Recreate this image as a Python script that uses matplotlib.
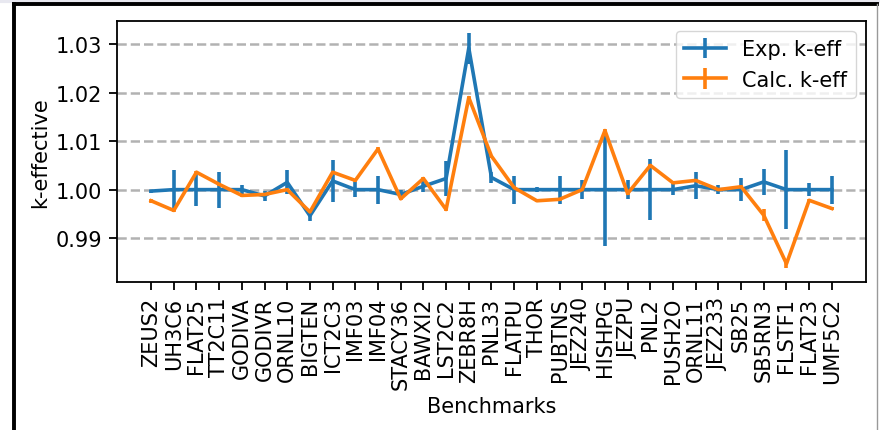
import numpy as np
import matplotlib
matplotlib.use("Agg")
import matplotlib.pyplot as plt
from matplotlib.lines import Line2D

benchmarks = ["ZEUS2", "UH3C6", "FLAT25", "TT2C11", "GODIVA", "GODIVR", "ORNL10",
              "BIGTEN", "ICT2C3", "IMF03", "IMF04", "STACY36", "BAWXI2", "LST2C2",
              "ZEBR8H", "PNL33", "FLATPU", "THOR", "PUBTNS", "JEZ240", "HISHPG",
              "JEZPU", "PNL2", "PUSH2O", "ORNL11", "JEZ233", "SB25", "SB5RN3",
              "FLSTF1", "FLAT23", "UMF5C2"]

exp_k = [0.9997, 1.0000, 1.0000, 1.0000, 1.0000, 0.9987, 1.0015,
         0.9946, 1.0018, 1.0000, 1.0000, 0.9990, 1.0007, 1.0023,
         1.0292, 1.0025, 1.0000, 1.0000, 1.0000, 1.0000, 1.0000,
         1.0000, 1.0000, 1.0000, 1.0008, 1.0000, 1.0000, 1.0016,
         1.0000, 1.0000, 1.0000]
exp_err = [0.0003, 0.0041, 0.0033, 0.0037, 0.0009, 0.0010, 0.0025,
           0.0010, 0.0043, 0.0016, 0.0029, 0.0009, 0.0012, 0.0036,
           0.0032, 0.0012, 0.0029, 0.0005, 0.0029, 0.0019, 0.0116,
           0.0019, 0.0063, 0.0011, 0.0028, 0.0009, 0.0024, 0.0027,
           0.0081, 0.0014, 0.0029]

calc_k = [0.9977, 0.9957, 1.0036, 1.0011, 0.9988, 0.9990, 1.0000,
          0.9954, 1.0036, 1.0019, 1.0084, 0.9981, 1.0023, 0.9959,
          1.0190, 1.0069, 1.0004, 0.9977, 0.9980, 1.0000, 1.0122,
          0.9992, 1.0050, 1.0014, 1.0019, 1.0000, 1.0006, 0.9947,
          0.9847, 0.9978, 0.9961]
calc_err = [0.0004, 0.0003, 0.0003, 0.0003, 0.0003, 0.0003, 0.0003,
            0.0003, 0.0003, 0.0003, 0.0003, 0.0003, 0.0003, 0.0003,
            0.0003, 0.0003, 0.0003, 0.0003, 0.0003, 0.0003, 0.0003,
            0.0003, 0.0003, 0.0003, 0.0003, 0.0003, 0.0003, 0.0012,
            0.0009, 0.0003, 0.0003]

x = np.arange(len(benchmarks))

fig = plt.figure(figsize=(8.8, 4.31), dpi=100)
ax = fig.add_axes([0.133, 0.343, 0.851, 0.607])

ax.errorbar(x, exp_k, yerr=exp_err, lw=2.6, elinewidth=2.6, label="Exp. k-eff")
ax.errorbar(x, calc_k, yerr=calc_err, lw=2.6, elinewidth=2.6, label="Calc. k-eff")

ax.set_xticks(x)
ax.set_xticklabels(benchmarks, rotation=90, fontsize=15)
ax.set_yticks([0.99, 1.00, 1.01, 1.02, 1.03])
ax.tick_params(axis="both", labelsize=15, length=5.5, width=1.3, pad=5)
ax.set_xlim(-1.5, 31.5)
ax.set_ylim(0.9809, 1.0349)
ax.yaxis.grid(True, linestyle="--", color="gray", alpha=0.6, lw=1.8)
ax.set_axisbelow(True)
for s in ax.spines.values():
    s.set_linewidth(1.3)
ax.set_xlabel("Benchmarks", fontsize=15, labelpad=5)
ax.set_ylabel("k-effective", fontsize=15)
ax.legend(loc="upper right", fontsize=15)

# cadre de la capture d'ecran
fig.add_artist(Line2D([0, 1], [0.9955, 0.9955], color="#e8e8f0", lw=3, transform=fig.transFigure))
fig.add_artist(Line2D([0.0155, 0.0155], [0, 0.988], color="black", lw=2.8, transform=fig.transFigure))
fig.add_artist(Line2D([0.0155, 0.997], [0.988, 0.988], color="black", lw=2.8, transform=fig.transFigure))
fig.add_artist(Line2D([0.997, 0.997], [0, 0.988], color="#999999", lw=1, transform=fig.transFigure))

fig.savefig("out.png", dpi=100)
